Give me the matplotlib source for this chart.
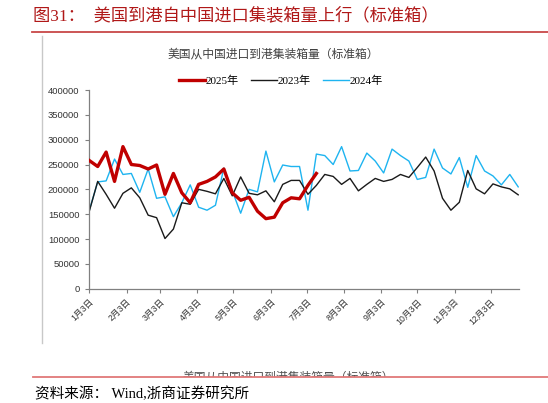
import numpy as np
import matplotlib
matplotlib.use("Agg")
import matplotlib.pyplot as plt
from matplotlib.patches import Rectangle
from matplotlib.lines import Line2D

plt.rcParams['font.family'] = ['Liberation Sans', 'Noto Sans CJK SC', 'DejaVu Sans']
SERIF = ['Liberation Serif', 'Noto Sans CJK SC', 'DejaVu Sans']

# weekly values (TEU), first week = Jan 3
y2025 = [258000, 246000, 275000, 216000, 286000, 250000, 248000, 241000, 249000, 190000,
         232000, 193000, 173000, 210000, 216000, 225000, 241000, 193000, 178000, 184000,
         156000, 141000, 144000, 173000, 183000, 181000, 208000, 232000]
y2023 = [156000, 216000, 190000, 162000, 192000, 203000, 183000, 148000, 143000, 101000,
         120000, 173000, 170000, 200000, 196000, 191000, 222000, 187000, 225000, 192000,
         189000, 197000, 175000, 210000, 218000, 218000, 190000, 208000, 230000, 226000,
         210000, 222000, 197000, 210000, 222000, 216000, 220000, 230000, 224000, 244000,
         265000, 237000, 182000, 158000, 174000, 238000, 201000, 191000, 211000, 205000,
         201000, 189000]
y2024 = [158000, 215000, 217000, 261000, 230000, 232000, 194000, 241000, 182000, 185000,
         145000, 173000, 209000, 164000, 158000, 168000, 243000, 197000, 152000, 200000,
         195000, 277000, 215000, 249000, 246000, 246000, 158000, 271000, 268000, 250000,
         286000, 237000, 238000, 273000, 257000, 233000, 281000, 268000, 257000, 220000,
         224000, 281000, 243000, 231000, 264000, 204000, 268000, 237000, 227000, 209000,
         230000, 205000]

tick_days = [0, 31, 59, 90, 120, 151, 181, 212, 243, 273, 304, 334]
tick_labels = ['%d月3日' % m for m in range(1, 13)]
y_ticks = list(range(0, 400001, 50000))

W, H = 548, 403
fig = plt.figure(figsize=(W / 100, H / 100), dpi=100)

# page decorations
fig.text(33 / W, 1 - 16 / H, '图31：  美国到港自中国进口集装箱量上行（标准箱）',
         color='#B01818', fontsize=12.4, family=SERIF, va='center', ha='left')
fig.add_artist(Line2D([32 / W, 1], [1 - 32 / H, 1 - 32 / H], color='#C84848', lw=1.3))
fig.add_artist(Line2D([42 / W, 42 / W], [1 - 36 / H, 1 - 343 / H], color='#C8C8C8', lw=1))

fig.text(273 / W, 1 - 54 / H, '美国从中国进口到港集装箱量（标准箱）',
         color='#404040', fontsize=8.5, ha='center', va='center')

# chart
ax = fig.add_axes([89.3 / W, (H - 288.7) / H, (519.4 - 89.3) / W, (288.7 - 90) / H])
days23 = np.arange(len(y2023)) * 7
days24 = np.arange(len(y2024)) * 7
days25 = np.arange(len(y2025)) * 7
ax.plot(days25, y2025, color='#C00000', lw=2.4, label='2025年', zorder=3)
ax.plot(days23, y2023, color='#1a1a1a', lw=1.0, label='2023年', zorder=2)
ax.plot(days24, y2024, color='#1EB4F0', lw=1.0, label='2024年', zorder=1)

ax.set_xlim(0, 358)
ax.set_ylim(0, 400000)
ax.set_yticks(y_ticks)
ax.set_yticklabels([str(v) for v in y_ticks])
ax.set_xticks(tick_days)
ax.set_xticklabels(tick_labels, rotation=45, ha='right', rotation_mode='anchor')
ax.tick_params(axis='y', labelsize=6.8, length=3, pad=4, color='#808080', labelcolor='#333333')
ax.tick_params(axis='x', labelsize=6.3, length=3, pad=3, color='#808080', labelcolor='#333333')
for s in ['top', 'right']:
    ax.spines[s].set_visible(False)
for s in ['left', 'bottom']:
    ax.spines[s].set_color('#808080')
    ax.spines[s].set_linewidth(0.9)

handles, labels = ax.get_legend_handles_labels()
fig.legend(handles, labels, loc='center', bbox_to_anchor=(281 / W, 1 - 81 / H), ncol=3,
           frameon=False, handlelength=2.3, handletextpad=0.1, columnspacing=1.1,
           prop={'family': SERIF, 'size': 8})

# cut-off caption at bottom
fig.text(288 / W, 1 - 377 / H, '美国从中国进口到港集装箱量（标准箱）',
         color='#505050', fontsize=8.5, ha='center', va='center')
fig.add_artist(Rectangle((0, 0), 1, 1 - 377 / H, transform=fig.transFigure,
                         facecolor='white', edgecolor='none', zorder=5))
fig.add_artist(Line2D([33 / W, 1], [1 - 377 / H, 1 - 377 / H], color='#E07878', lw=1.3, zorder=6))

fig.text(35 / W, 1 - 394 / H, '资料来源： Wind,浙商证券研究所', color='black',
         fontsize=10.5, family=SERIF, ha='left', va='center', zorder=7)

fig.savefig('out.png', dpi=100)
